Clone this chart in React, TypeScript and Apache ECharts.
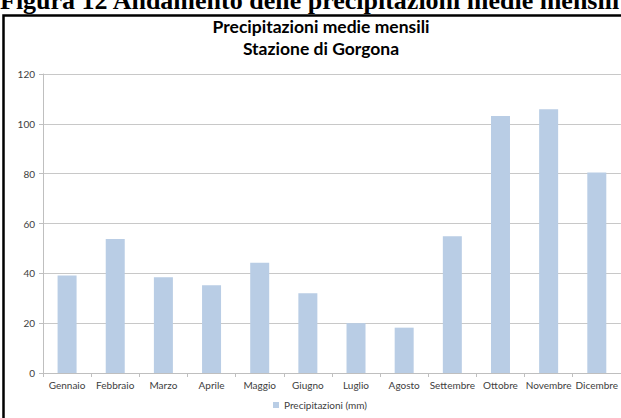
import React, { useEffect, useRef } from "react";
import * as echarts from "echarts";

const months = ["Gennaio", "Febbraio", "Marzo", "Aprile", "Maggio", "Giugno", "Luglio", "Agosto", "Settembre", "Ottobre", "Novembre", "Dicembre"];
const precipitation = [39.1, 53.8, 38.4, 35.2, 44.2, 32.0, 20.0, 18.2, 54.9, 103.1, 105.9, 80.5];
const seriesName = "Precipitazioni (mm)";
const titleLine1 = "Precipitazioni medie mensili";
const titleLine2 = "Stazione di Gorgona";
const caption = "Figura 12 Andamento delle precipitazioni medie mensili";

export default function App() {
  const ref = useRef<HTMLDivElement>(null);
  useEffect(() => {
    if (!ref.current) return;
    const chart = echarts.init(ref.current, null, { renderer: "svg" });
    chart.setOption({
      animation: false,
      backgroundColor: "#ffffff",
      title: {
        text: titleLine1 + "\n" + titleLine2,
        left: 321,
        textAlign: "center",
        top: 15,
        padding: 0,
        textStyle: { fontFamily: "Lato", fontWeight: "bold", fontSize: 17.5, color: "#000", lineHeight: 22.5 },
      },
      graphic: [
        {
          type: "text",
          left: 0,
          top: -13,
          style: { text: caption, fontFamily: "Liberation Serif", fontWeight: "bold", fontSize: 26, fill: "#000" },
        },
        {
          type: "rect",
          shape: { x: 3.5, y: 15.5, width: 700, height: 500 },
          style: { fill: "none", stroke: "#000", lineWidth: 2.5 },
        },
      ],
      legend: {
        bottom: 3,
        left: 268,
        itemWidth: 6,
        itemHeight: 6,
        itemGap: 4,
        icon: "rect",
        textStyle: { fontFamily: "Lato", fontSize: 10, color: "#404040" },
        data: [seriesName],
      },
      grid: { left: 43, right: 0, top: 74, bottom: 45, containLabel: false },
      xAxis: {
        type: "category",
        data: months,
        axisLine: { lineStyle: { color: "#bfbfbf", width: 1 } },
        axisTick: { show: true, alignWithLabel: false, length: 4, lineStyle: { color: "#bfbfbf" } },
        axisLabel: { fontFamily: "Lato", fontSize: 10, color: "#404040", margin: 7, interval: 0 },
      },
      yAxis: {
        type: "value",
        min: 0,
        max: 120,
        interval: 20,
        axisLine: { show: true, lineStyle: { color: "#bfbfbf", width: 1 } },
        axisTick: { show: true, length: 4, lineStyle: { color: "#bfbfbf" } },
        axisLabel: { fontFamily: "Lato", fontSize: 10, color: "#404040", margin: 8 },
        splitLine: { show: true, lineStyle: { color: "#c8c8c8", width: 1 } },
      },
      series: [
        {
          name: seriesName,
          type: "bar",
          data: precipitation,
          barWidth: 19,
          itemStyle: { color: "#b9cde5" },
        },
      ],
    });
    return () => chart.dispose();
  }, []);
  return <div ref={ref} style={{ position: "fixed", left: 0, top: 0, width: 621, height: 418 }} />;
}
